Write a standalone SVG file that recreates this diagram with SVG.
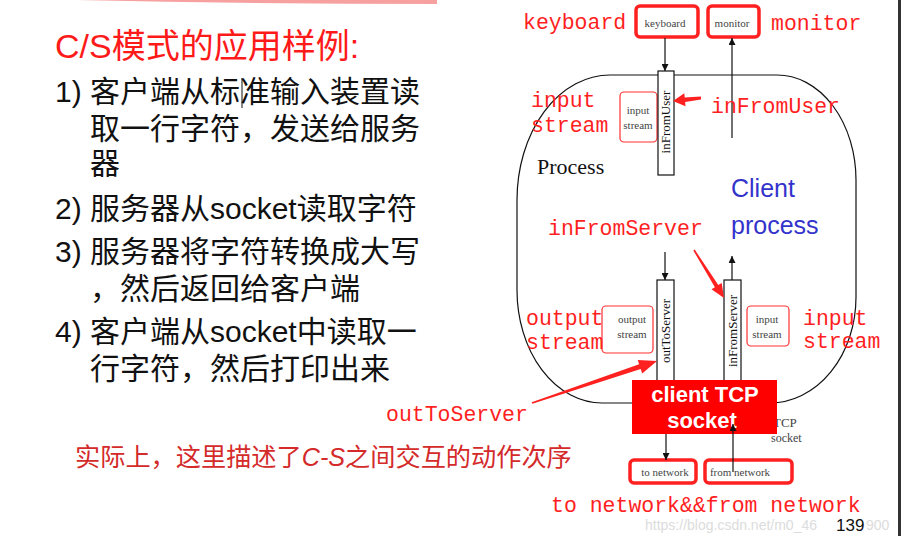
<svg xmlns="http://www.w3.org/2000/svg" width="901" height="536" viewBox="0 0 901 536">
<style>
.zh{font-family:"Liberation Sans","Noto Sans CJK SC",sans-serif;fill:#111;font-size:30px}
.mono{font-family:"Liberation Mono",monospace;fill:#ff1f1f;font-size:21.5px}
.small{font-family:"Liberation Serif",serif;fill:#444;font-size:11px;text-anchor:middle}
.vert{font-family:"Liberation Serif",serif;fill:#111;font-size:13px;text-anchor:middle}
.dev{fill:#fff;stroke:#ff2020;stroke-width:3.5}
.strm{fill:#fff;stroke:#ff3030;stroke-width:1.2}
.sock{fill:#fff;stroke:#111;stroke-width:1.2}
.ln{stroke:#111;stroke-width:1.2;fill:none}
.red{fill:#ff2020}
.blue{font-family:"Liberation Sans",sans-serif;fill:#3333cc;font-size:25px}
.wm{font-family:"Liberation Sans",sans-serif;font-size:14px;fill:#dcdcdc}
</style>
<defs>
<marker id="ah" viewBox="0 0 10 10" refX="10" refY="5" markerWidth="7" markerHeight="7" markerUnits="userSpaceOnUse" orient="auto">
<path d="M0 0 L10 5 L0 10 Z" fill="#111"/>
</marker>
</defs>
<rect width="901" height="536" fill="#fff"/>
<path d="M77 0 Q260 4 437 4 L437 0 Z" fill="#f06060" opacity="0.6"/>
<rect x="898" y="0" width="3" height="536" fill="#333"/>

<g id="left-text">
<text x="55" y="58" style="font-family:'Liberation Sans','Noto Sans CJK SC',sans-serif;font-size:34px;fill:#ff1a1a">C/S模式的应用样例:</text>
<text class="zh" x="55" y="102">1)</text>
<text class="zh" x="90" y="102">客户端从标准输入装置读</text>
<text class="zh" x="90" y="139">取一行字符，发送给服务</text>
<text class="zh" x="90" y="174">器</text>
<text class="zh" x="55" y="219">2)</text>
<text class="zh" x="90" y="219">服务器从socket读取字符</text>
<text class="zh" x="55" y="262">3)</text>
<text class="zh" x="90" y="262">服务器将字符转换成大写</text>
<text class="zh" x="90" y="299">，然后返回给客户端</text>
<text class="zh" x="55" y="342">4)</text>
<text class="zh" x="90" y="342">客户端从socket中读取一</text>
<text class="zh" x="90" y="379">行字符，然后打印出来</text>
<line x1="242" y1="78" x2="242" y2="108" stroke="#111" stroke-width="1"/>
<text x="75" y="466" style="font-family:'Liberation Sans','Noto Sans CJK SC',sans-serif;font-size:25.2px;fill:#d42a2a">实际上，这里描述了<tspan font-style="italic">C-S</tspan>之间交互的动作次序</text>
</g>

<g id="process">
<path class="ln" d="M610 75 L777 75 A79 105 0 0 1 856 180 L856 297 A86 106 0 0 1 770 403 L602 403 A85 113 0 0 1 517 290 L517 200 A93 125 0 0 1 610 75 Z"/>
<text x="537" y="174" style="font-family:'Liberation Serif',serif;font-size:22px;fill:#111">Process</text>
<text class="blue" x="731" y="197">Client</text>
<text class="blue" x="731" y="234">process</text>
</g>

<g id="keyboard">
<rect class="dev" x="636" y="6" width="62" height="31" rx="4"/>
<text class="small" x="665" y="27">keyboard</text>
</g>
<g id="monitor">
<rect class="dev" x="708" y="6" width="51" height="31" rx="4"/>
<text class="small" x="732" y="27">monitor</text>
</g>

<g id="inFromUser">
<rect class="strm" x="620" y="92" width="37" height="50" rx="4"/>
<text class="small" x="638" y="114">input</text>
<text class="small" x="638" y="129">stream</text>
<rect class="sock" x="658" y="71" width="16" height="104"/>
<text class="vert" transform="translate(670 122) rotate(-90)">inFromUser</text>
</g>

<g id="outToServer">
<rect class="strm" x="602" y="306" width="51" height="47" rx="4"/>
<text class="small" x="632" y="323">output</text>
<text class="small" x="632" y="338">stream</text>
<rect class="sock" x="657" y="280" width="17" height="110"/>
<text class="vert" transform="translate(670 331) rotate(-90)">outToServer</text>
</g>

<g id="inFromServer">
<rect class="strm" x="747" y="306" width="42" height="40" rx="4"/>
<text class="small" x="767" y="323">input</text>
<text class="small" x="767" y="338">stream</text>
<rect class="sock" x="724" y="280" width="17" height="110"/>
<text class="vert" transform="translate(737 331) rotate(-90)">inFromServer</text>
</g>

<g id="tcp-socket">
<text x="773" y="427" style="font-family:'Liberation Serif',serif;font-size:13px;fill:#444">TCP</text>
<text x="771" y="442" style="font-family:'Liberation Serif',serif;font-size:12px;fill:#444">socket</text>
<rect x="632" y="380" width="145" height="54" fill="#ff0000"/>
<text x="705" y="402" text-anchor="middle" style="font-family:'Liberation Sans',sans-serif;font-weight:bold;font-size:22px;fill:#fff">client TCP</text>
<text x="702" y="428" text-anchor="middle" style="font-family:'Liberation Sans',sans-serif;font-weight:bold;font-size:22px;fill:#fff">socket</text>
</g>

<g id="to-network">
<rect class="dev" x="630" y="460" width="66" height="23" rx="4"/>
<text class="small" x="665" y="476">to network</text>
</g>
<g id="from-network">
<rect class="dev" x="705" y="460" width="87" height="23" rx="4"/>
<text class="small" x="740" y="476">from network</text>
</g>

<g id="connectors">
<line class="ln" x1="665" y1="38" x2="665" y2="71" marker-end="url(#ah)"/>
<line class="ln" x1="732" y1="138" x2="732" y2="38" marker-end="url(#ah)"/>
<line class="ln" x1="665" y1="252" x2="665" y2="280" marker-end="url(#ah)"/>
<line class="ln" x1="732" y1="280" x2="732" y2="256" marker-end="url(#ah)"/>
<line class="ln" x1="666" y1="434" x2="666" y2="460" marker-end="url(#ah)"/>
<line class="ln" x1="733" y1="472" x2="733" y2="424" marker-end="url(#ah)"/>
<polygon class="red" points="700.9,96.6 684.7,97.5 684.3,93.3 673,101 685.5,106.2 685.1,101.9 701.1,99.4"/>
<polygon class="red" points="693.3,250.4 714.9,287.2 711.5,289.3 724,298 721.7,282.9 718.3,285.0 694.7,249.6"/>
<polygon class="red" points="531.7,402.2 639.1,364.3 637.7,360.1 657,361 642.2,373.4 640.7,369.1 532.3,403.8"/>
</g>

<g id="labels">
<text class="mono" x="523" y="29">keyboard</text>
<text class="mono" x="771" y="30">monitor</text>
<text class="mono" x="531" y="107">input</text>
<text class="mono" x="531" y="132">stream</text>
<text class="mono" x="711" y="113">inFromUser</text>
<text class="mono" x="548" y="235">inFromServer</text>
<text class="mono" x="526" y="325">output</text>
<text class="mono" x="526" y="349">stream</text>
<text class="mono" x="803" y="325">input</text>
<text class="mono" x="803" y="348">stream</text>
<text class="mono" x="386" y="421">outToServer</text>
<text class="mono" x="551" y="512">to network&amp;&amp;from network</text>
</g>

<text class="wm" x="645" y="530">https://blog.csdn.net/m0_46</text>
<text class="wm" x="866" y="530">900</text>
<text x="836" y="531" style="font-family:'Liberation Sans',sans-serif;font-size:17px;fill:#111">139</text>
</svg>
